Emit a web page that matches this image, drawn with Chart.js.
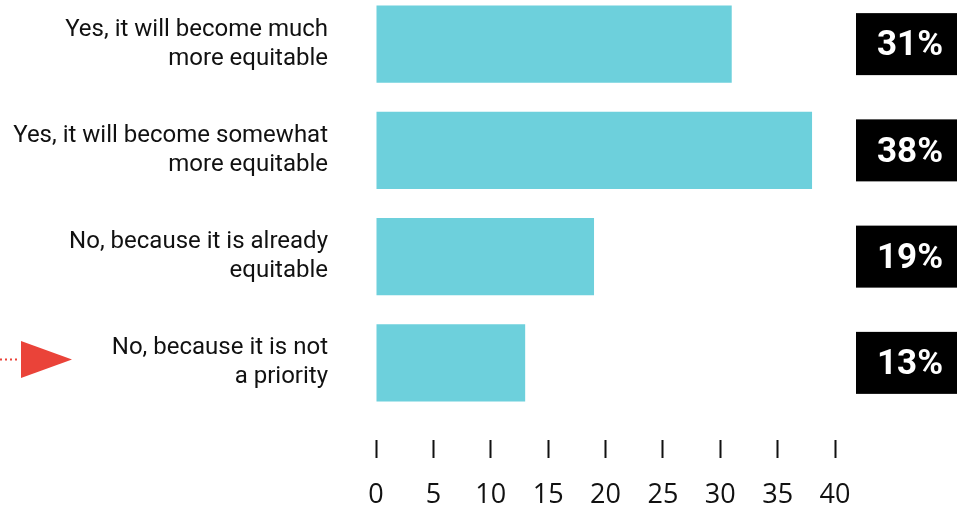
<!DOCTYPE html>
<html>
<head>
<meta charset="utf-8">
<script src="https://cdn.jsdelivr.net/npm/chart.js@4.4.0/dist/chart.umd.min.js"></script>
<style>
  html, body { margin: 0; padding: 0; background: #fff; overflow: hidden; }
  #wrap { position: absolute; left: 0; top: -9px; width: 957px; height: 519px; }
</style>
</head>
<body>
<div id="wrap"><canvas id="answers"></canvas></div>
<script>
// survey answers
const categories = [
  ["Yes, it will become much", "more equitable"],
  ["Yes, it will become somewhat", "more equitable"],
  ["No, because it is already", "equitable"],
  ["No, because it is not", "a priority"]
];
const shares = [31, 38, 19, 13];
const xTicks = [0, 5, 10, 15, 20, 25, 30, 35, 40];
const highlightIndex = 3;

const BAR_COLOR = "#6dd0dc";
const ARROW_COLOR = "#ea4339";

// black boxes with the percentage at the right of each bar
const valueBoxes = {
  id: "valueBoxes",
  afterDatasetsDraw(chart) {
    const ctx = chart.ctx;
    const bars = chart.getDatasetMeta(0).data;
    const left = chart.chartArea.right + 21;
    ctx.save();
    bars.forEach((bar, i) => {
      ctx.fillStyle = "#000";
      ctx.fillRect(left, bar.y - 31, 120, 62);
      ctx.fillStyle = "#fff";
      ctx.font = "bold 35px Roboto";
      ctx.textAlign = "center";
      ctx.textBaseline = "middle";
      ctx.fillText(shares[i] + "%", left + 54, bar.y + 2.5);
    });
    ctx.restore();
  }
};

// red pointer next to the highlighted answer
const pointer = {
  id: "pointer",
  afterDraw(chart) {
    const ctx = chart.ctx;
    const y = chart.scales.y.getPixelForValue(highlightIndex) - 3.5;
    ctx.save();
    ctx.strokeStyle = ARROW_COLOR;
    ctx.lineWidth = 2;
    ctx.setLineDash([2, 3]);
    ctx.beginPath();
    ctx.moveTo(0, y);
    ctx.lineTo(18, y);
    ctx.stroke();
    ctx.setLineDash([]);
    ctx.fillStyle = ARROW_COLOR;
    ctx.beginPath();
    ctx.moveTo(21, y - 18.5);
    ctx.lineTo(72, y);
    ctx.lineTo(21, y + 18.5);
    ctx.closePath();
    ctx.fill();
    ctx.restore();
  }
};

function drawChart() {
  new Chart(document.getElementById("answers"), {
    type: "bar",
    data: {
      labels: categories,
      datasets: [{
        data: shares,
        backgroundColor: BAR_COLOR,
        borderWidth: 0,
        categoryPercentage: 1,
        barPercentage: 0.725
      }]
    },
    options: {
      indexAxis: "y",
      responsive: true,
      maintainAspectRatio: false,
      animation: false,
      events: [],
      layout: { autoPadding: false, padding: { top: 0, right: 122, bottom: 0, left: 0 } },
      plugins: {
        legend: { display: false },
        tooltip: { enabled: false }
      },
      scales: {
        y: {
          border: { display: false },
          grid: { display: false },
          ticks: {
            color: "#111",
            padding: 40,
            font: { family: "Roboto", size: 24, lineHeight: 1.2 }
          },
          afterFit(scale) {
            scale.width = 376;
            // the two-line labels should not push the plot area down
            scale.paddingTop = 0;
            scale.paddingBottom = 0;
          }
        },
        x: {
          min: 0,
          max: 40,
          border: { display: false },
          grid: {
            drawOnChartArea: false,
            drawTicks: true,
            tickLength: 42,
            tickWidth: 2,
            tickColor: "#111",
            tickBorderDash: [0, 24, 18, 60]
          },
          afterBuildTicks(scale) {
            scale.ticks = xTicks.map(v => ({ value: v }));
          },
          ticks: {
            color: "#111",
            padding: 21,
            font: { family: "'Open Sans'", size: 27 }
          },
          afterFit(scale) { scale.height = 94; }
        }
      }
    },
    plugins: [valueBoxes, pointer]
  });
}

Promise.all([
  document.fonts.load("24px Roboto"),
  document.fonts.load("bold 35px Roboto"),
  document.fonts.load("27px 'Open Sans'")
]).then(drawChart, drawChart);
</script>
</body>
</html>
